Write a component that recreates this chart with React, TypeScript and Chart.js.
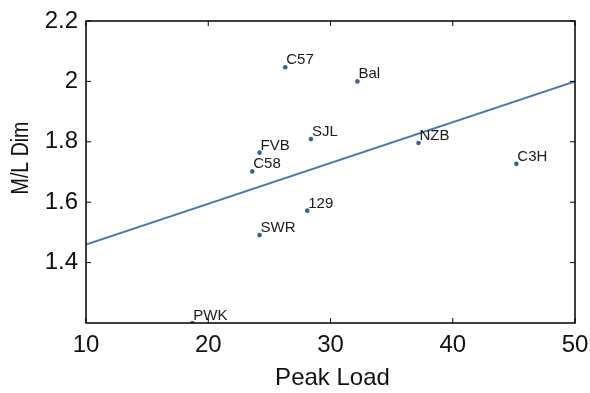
import React, { useEffect, useRef } from "react";
import { Chart, registerables } from "chart.js";

Chart.register(...registerables);

const strains = ["C57", "Bal", "SJL", "NZB", "C3H", "FVB", "C58", "129", "SWR", "PWK"];
const peakLoad = [26.3, 32.2, 28.4, 37.2, 45.2, 24.2, 23.6, 28.1, 24.2, 18.7];
const mlDim = [2.047, 2.0, 1.809, 1.796, 1.727, 1.764, 1.702, 1.572, 1.491, 1.2];
const fitX = [10, 50];
const fitY = [1.46, 2.0];
const xTickValues = [10, 20, 30, 40, 50];
const yTickValues = [1.4, 1.6, 1.8, 2, 2.2];
const xTitle = "Peak Load";
const yTitle = "M/L Dim";

const FONT = "'Liberation Sans', Arial, Helvetica, sans-serif";

const framePlugin = {
  id: "frame",
  afterDatasetsDraw(chart: any) {
    const { ctx, chartArea } = chart;
    const xs = chart.scales.x;
    const ys = chart.scales.y;
    const { left, right, top, bottom } = chartArea;
    ctx.save();
    // point labels
    const meta = chart.getDatasetMeta(1);
    ctx.fillStyle = "#1a1a1a";
    ctx.font = `15px ${FONT}`;
    ctx.textAlign = "left";
    ctx.textBaseline = "alphabetic";
    meta.data.forEach((el: any, i: number) => {
      ctx.fillText(strains[i], el.x + 1, el.y - 3);
    });
    // box
    ctx.strokeStyle = "#000";
    ctx.lineWidth = 1.5;
    ctx.beginPath();
    ctx.rect(left, top, right - left, bottom - top);
    ctx.stroke();
    // inside ticks
    const tl = 5;
    ctx.lineWidth = 1;
    ctx.beginPath();
    xTickValues.forEach((v) => {
      const px = xs.getPixelForValue(v);
      ctx.moveTo(px, bottom);
      ctx.lineTo(px, bottom - tl);
      ctx.moveTo(px, top);
      ctx.lineTo(px, top + tl);
    });
    yTickValues.forEach((v) => {
      const py = ys.getPixelForValue(v);
      ctx.moveTo(left, py);
      ctx.lineTo(left + tl, py);
      ctx.moveTo(right, py);
      ctx.lineTo(right - tl, py);
    });
    ctx.stroke();
    // titles
    ctx.fillStyle = "#111";
    ctx.font = `24px ${FONT}`;
    ctx.textAlign = "center";
    ctx.textBaseline = "alphabetic";
    ctx.fillText(xTitle, (left + right) / 2 + 2, 385);
    ctx.translate(28, 158);
    ctx.rotate(-Math.PI / 2);
    ctx.scale(0.85, 1);
    ctx.font = `23px ${FONT}`;
    ctx.fillText(yTitle, 0, 0);
    ctx.restore();
  },
};

export default function App() {
  const ref = useRef<HTMLCanvasElement>(null);
  useEffect(() => {
    if (!ref.current) return;
    const chart = new Chart(ref.current, {
      type: "scatter",
      data: {
        datasets: [
          {
            data: fitX.map((x, i) => ({ x, y: fitY[i] })),
            showLine: true,
            borderColor: "#4a79ab",
            borderWidth: 2,
            pointRadius: 0,
            fill: false,
          },
          {
            data: peakLoad.map((x, i) => ({ x, y: mlDim[i] })),
            pointRadius: 2.3,
            pointBackgroundColor: "#3b5f95",
            pointBorderWidth: 0,
            showLine: false,
          },
        ],
      },
      options: {
        animation: false,
        responsive: true,
        maintainAspectRatio: false,
        layout: { padding: { top: 21, right: 15, left: 0, bottom: 0 } },
        plugins: { legend: { display: false }, tooltip: { enabled: false } },
        scales: {
          x: {
            type: "linear",
            min: 10,
            max: 50,
            grid: { display: false, drawTicks: false },
            border: { display: false },
            afterBuildTicks: (s: any) => {
              s.ticks = xTickValues.map((v) => ({ value: v }));
            },
            afterFit: (s: any) => {
              s.height = 70;
              s.paddingLeft = 0;
              s.paddingRight = 0;
            },
            ticks: {
              padding: 8,
              color: "#111",
              font: { size: 24, family: FONT },
              maxRotation: 0,
              callback: (v: any) => String(v),
            },
          },
          y: {
            type: "linear",
            min: 1.2,
            max: 2.2,
            grid: { display: false, drawTicks: false },
            border: { display: false },
            afterBuildTicks: (s: any) => {
              s.ticks = yTickValues.map((v) => ({ value: v }));
            },
            afterFit: (s: any) => {
              s.width = 86;
              s.paddingTop = 0;
              s.paddingBottom = 0;
            },
            ticks: {
              padding: 8,
              color: "#111",
              font: { size: 24, family: FONT },
              callback: (v: any) => String(v),
            },
          },
        },
      },
      plugins: [framePlugin],
    });
    return () => chart.destroy();
  }, []);
  return (
    <div style={{ position: "fixed", left: 0, top: 0, width: 590, height: 393, background: "#fff" }}>
      <canvas ref={ref} />
    </div>
  );
}
